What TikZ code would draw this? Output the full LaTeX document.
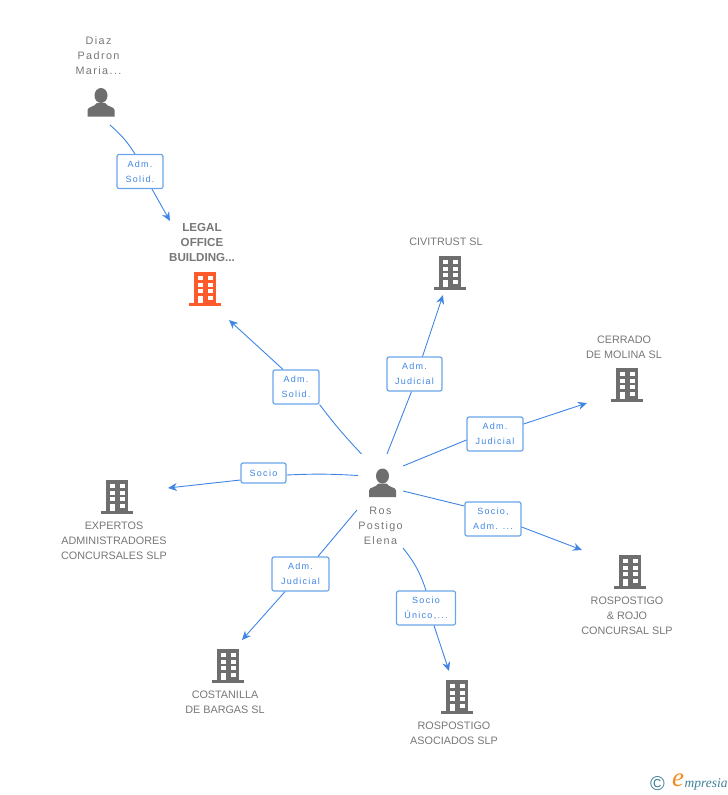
\documentclass[tikz,border=0pt]{standalone}
\usepackage{fontspec}
\usepackage{tikz}
\usetikzlibrary{arrows.meta}
\setmainfont{Liberation Sans}
\newfontfamily\namefont[LetterSpace=13]{Liberation Sans}
\newfontfamily\boxfont[LetterSpace=14]{Liberation Sans}
\newfontfamily\markfont{Liberation Serif}
\definecolor{linkblue}{HTML}{3F85E5}
\definecolor{boxblue}{HTML}{6AA5EA}
\definecolor{iconGray}{HTML}{6E6E6E}
\definecolor{nameGray}{HTML}{777777}
\definecolor{legalOrange}{HTML}{FF5A2C}
\definecolor{markTeal}{HTML}{3F7F95}
\definecolor{markOrange}{HTML}{F58A1F}
\tikzset{
  link/.style={draw=linkblue, line width=0.9pt},
  linkto/.style={link, -{Stealth[length=9pt,width=8pt]}},
  tag/.style={draw=boxblue, line width=1.2pt, fill=white, rounded corners=2pt, inner sep=0pt,
    align=center, text=linkblue, font=\boxfont\fontsize{9}{15}\selectfont},
  person name/.style={align=center, text=nameGray, font=\namefont\fontsize{10.8}{15}\selectfont},
  firm name/.style={align=center, text=nameGray, font=\fontsize{10.8}{15}\selectfont},
  person/.pic={
    \fill[iconGray] (0,-7.5) ellipse (6.5 and 7.5);
    \fill[iconGray] (-13.5,13.5) -- (-13.5,7) .. controls (-13.5,3.5) and (-6,4) .. (-4,0)
      -- (4,0) .. controls (6,4) and (13.5,3.5) .. (13.5,7) -- (13.5,13.5) -- cycle;
  },
  tower/.pic={
    \fill[#1] (-11,0) rectangle (11,31);
    \fill[#1] (-16,31) rectangle (16,34);
    \foreach \row in {4,10.7,17.3} {
      \fill[white] (-7.5,\row) rectangle (-2.5,\row+4);
      \fill[white] (2.5,\row) rectangle (7.5,\row+4);
    }
    \fill[white] (-7.5,24) rectangle (-2.5,31);
    \fill[white] (2.5,24) rectangle (7.5,28);
  }
}
\begin{document}
\begin{tikzpicture}[x=1pt, y=-1pt]
\useasboundingbox (0,0) rectangle (728,795);

% people and firms
\pic at (101,103) {person};
\pic at (382.5,483.5) {person};
\pic at (205,272) {tower=legalOrange};
\pic at (450,256) {tower=iconGray};
\pic at (627,368) {tower=iconGray};
\pic at (117,480) {tower=iconGray};
\pic at (630,555) {tower=iconGray};
\pic at (228,649) {tower=iconGray};
\pic at (457,680) {tower=iconGray};

\node[person name] (diaz) at (98.5,56) {Diaz\\Padron\\Maria...};
\node[person name] (ros) at (380.5,526) {Ros\\Postigo\\Elena};
\node[firm name, font=\bfseries\fontsize{11.6}{15}\selectfont] (legal) at (202,243) {LEGAL\\OFFICE\\BUILDING...};
\node[firm name] (civitrust) at (446,242) {CIVITRUST SL};
\node[firm name] (cerrado) at (624,347) {CERRADO\\DE MOLINA SL};
\node[firm name] (expertos) at (114,541) {EXPERTOS\\ADMINISTRADORES\\CONCURSALES SLP};
\node[firm name] (rojo) at (627,616) {ROSPOSTIGO\\\& ROJO\\CONCURSAL SLP};
\node[firm name] (costanilla) at (225,702) {COSTANILLA\\DE BARGAS SL};
\node[firm name] (asociados) at (454,733) {ROSPOSTIGO\\ASOCIADOS SLP};

% ends of the connectors
\coordinate (diazOut) at (110,125);
\coordinate (legalIn) at (170,221);
\coordinate (rosLegal) at (361.5,454);
\coordinate (legalInB) at (229,320);
\coordinate (rosCivitrust) at (387,454);
\coordinate (civitrustIn) at (443,295);
\coordinate (rosCerrado) at (403,466);
\coordinate (cerradoIn) at (587,403);
\coordinate (rosRojo) at (403,491);
\coordinate (rojoIn) at (582,550);
\coordinate (rosAsociados) at (403,548);
\coordinate (asociadosIn) at (449,671);
\coordinate (rosCostanilla) at (357,510);
\coordinate (costanillaIn) at (242,640);
\coordinate (rosExpertos) at (358,475.5);
\coordinate (expertosIn) at (168,488);

% labels on the connectors
\node[tag, minimum width=46pt, minimum height=34pt] (tagDiaz) at (140,171.5) {Adm.\\Solid.};
\node[tag, minimum width=46pt, minimum height=34pt] (tagLegal) at (296,387) {Adm.\\Solid.};
\node[tag, minimum width=55pt, minimum height=34pt] (tagCivitrust) at (414.5,374) {Adm.\\Judicial};
\node[tag, minimum width=56pt, minimum height=34pt] (tagCerrado) at (495,434) {Adm.\\Judicial};
\node[tag, minimum width=45pt, minimum height=20pt] (tagExpertos) at (263.5,473) {Socio};
\node[tag, minimum width=56pt, minimum height=34pt] (tagRojo) at (493,519) {Socio,\\Adm. ...};
\node[tag, minimum width=59pt, minimum height=34pt] (tagAsociados) at (426,608) {Socio\\Único,...};
\node[tag, minimum width=57pt, minimum height=34pt] (tagCostanilla) at (300.5,574) {Adm.\\Judicial};

% connectors
\draw[link] (diazOut) to[bend left=8] ([xshift=-5pt]tagDiaz.north);
\draw[linkto] ([xshift=12pt]tagDiaz.south) -- (legalIn);
\draw[link] (rosLegal) to[bend left=3] (tagLegal.south east);
\draw[linkto] ([xshift=-13pt]tagLegal.north) -- (legalInB);
\draw[link] (rosCivitrust) -- ([xshift=-3pt]tagCivitrust.south);
\draw[linkto] ([xshift=8pt]tagCivitrust.north) -- (civitrustIn);
\draw[link] (rosCerrado) -- ([yshift=-6pt]tagCerrado.west);
\draw[linkto] ([yshift=10pt]tagCerrado.east) -- (cerradoIn);
\draw[link] (rosRojo) -- ([yshift=13pt]tagRojo.west);
\draw[linkto] ([yshift=-8pt]tagRojo.east) -- (rojoIn);
\draw[link] (rosAsociados) to[bend left=10] (tagAsociados.north);
\draw[linkto] ([xshift=8pt]tagAsociados.south) -- (asociadosIn);
\draw[link] (rosCostanilla) -- ([xshift=17.5pt]tagCostanilla.north);
\draw[linkto] ([xshift=-15.5pt]tagCostanilla.south) -- (costanillaIn);
\draw[link] (rosExpertos) to[bend right=3] ([yshift=-2pt]tagExpertos.east);
\draw[linkto] ([yshift=-7pt]tagExpertos.west) -- (expertosIn);

% trade mark
\node[text=markTeal, font=\fontsize{20}{20}\selectfont, inner sep=0pt] (markC) at (657.5,783.5) {©};
\node[text=markOrange, font=\markfont\itshape\fontsize{27}{27}\selectfont, inner sep=0pt] (markE) at (678,780) {e};
\node[text=markTeal, font=\markfont\itshape\fontsize{13.5}{14}\selectfont, inner sep=0pt, anchor=west] (markName) at (684.5,784) {mpresia};
\end{tikzpicture}
\end{document}
